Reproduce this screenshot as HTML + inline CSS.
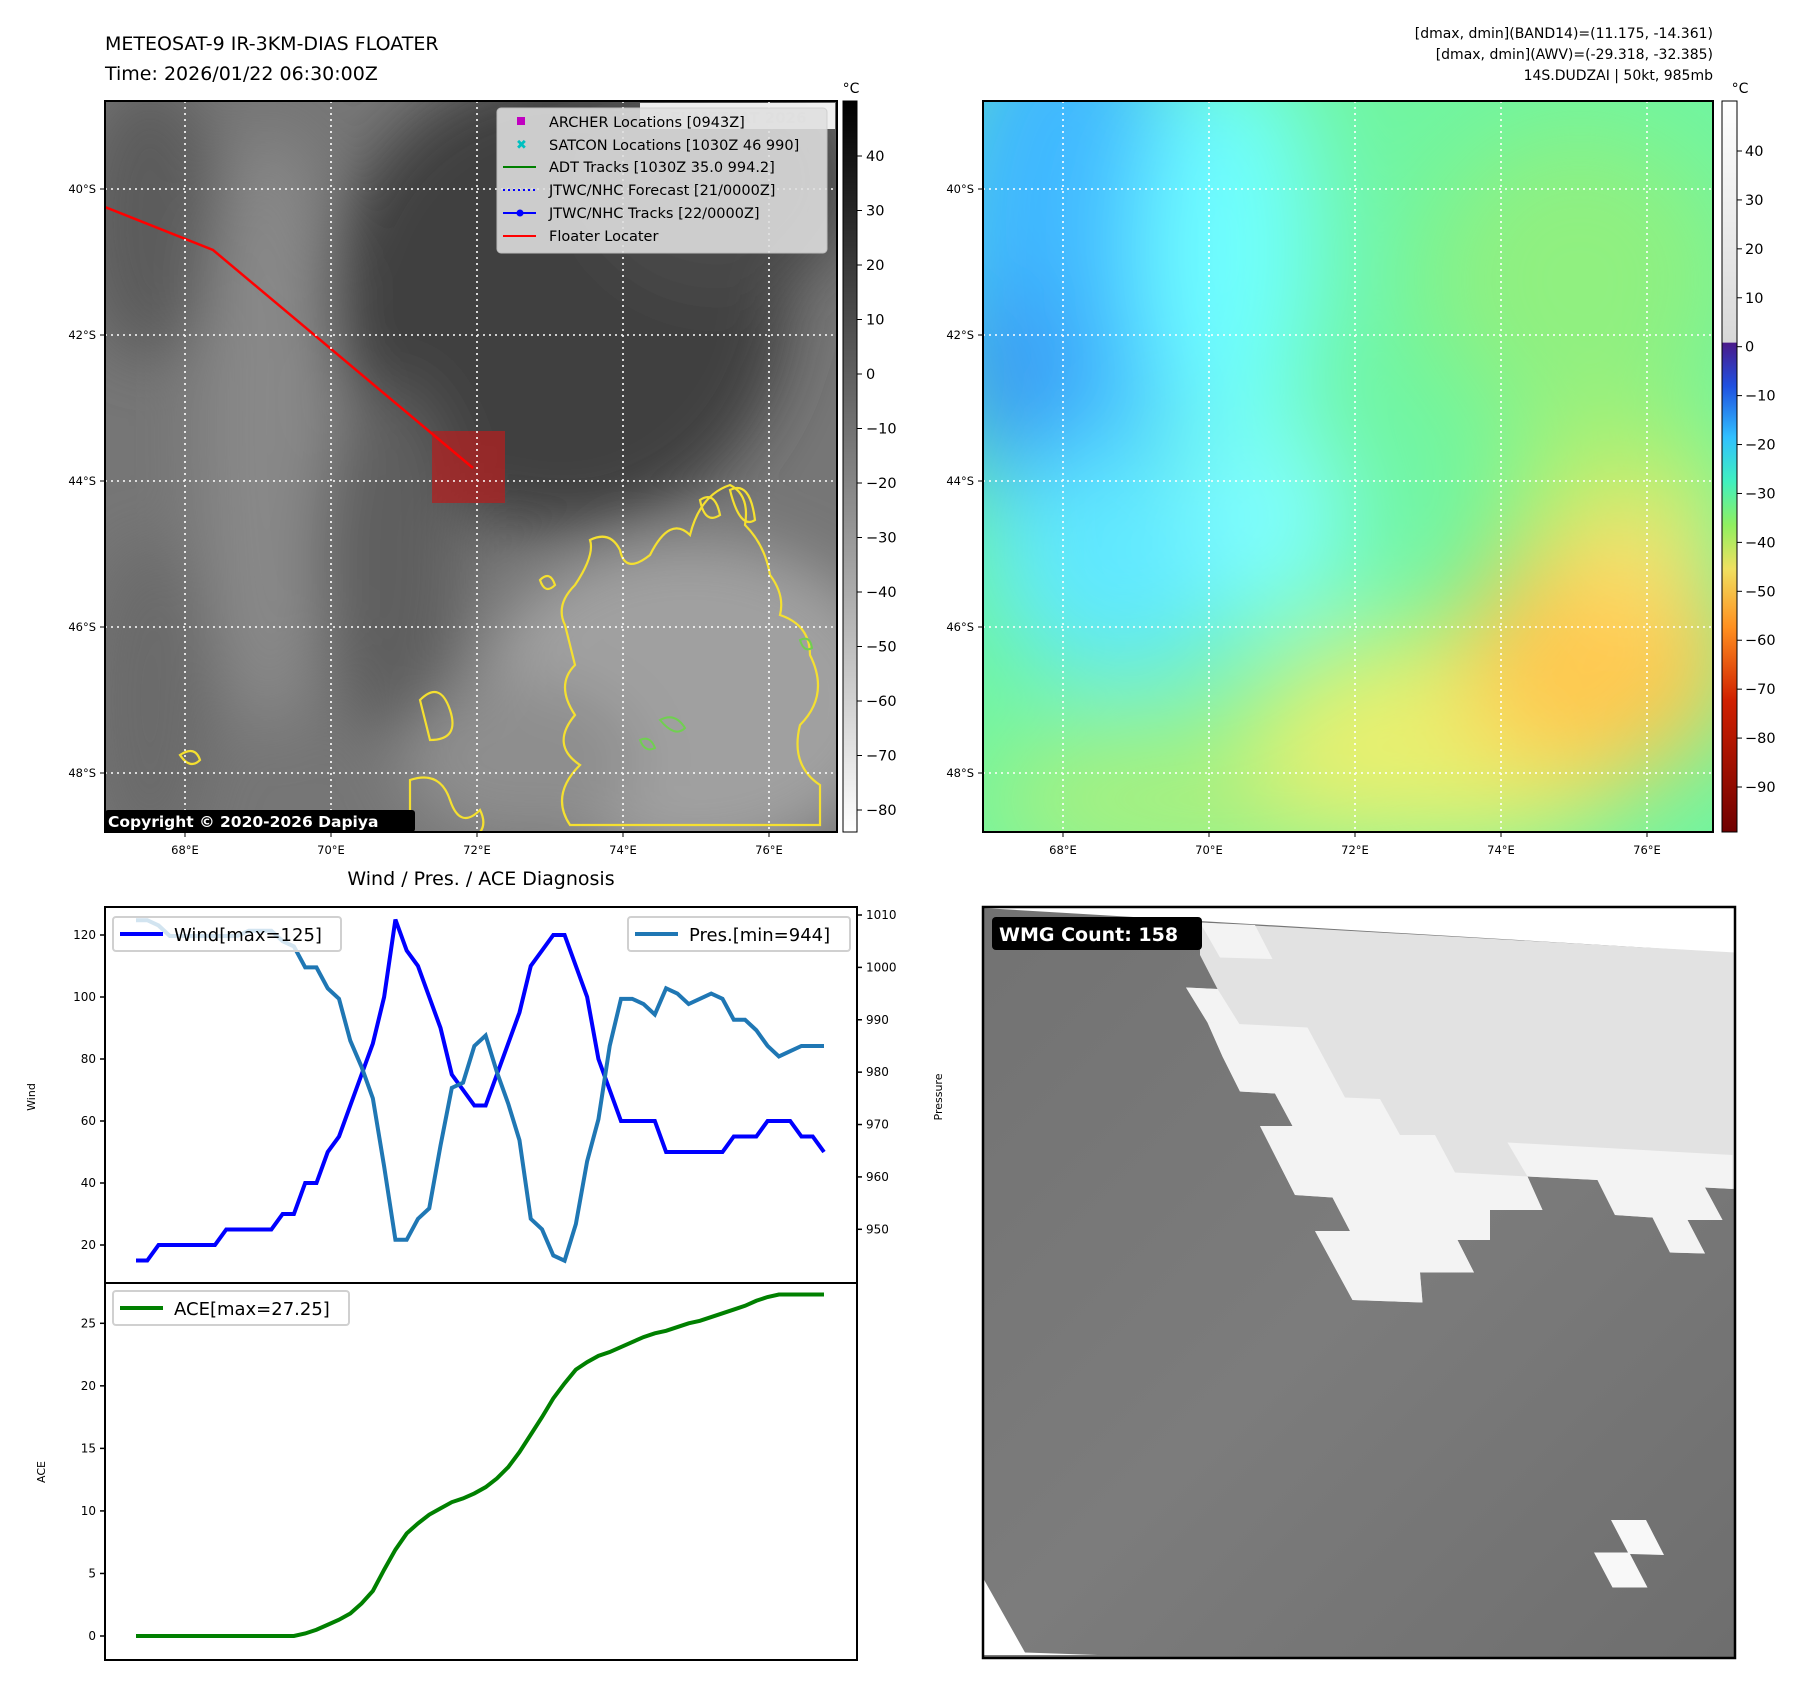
<!DOCTYPE html>
<html><head><meta charset="utf-8"><style>
body{margin:0;background:#fff;font-family:"Liberation Sans","DejaVu Sans",sans-serif;}
svg text{font-family:"DejaVu Sans","Liberation Sans",sans-serif;}
</style></head><body>
<svg id="root" width="1797" height="1690" viewBox="0 0 1797 1690" xmlns="http://www.w3.org/2000/svg">
<defs>
<filter id="b1" x="-50%" y="-50%" width="200%" height="200%"><feGaussianBlur stdDeviation="30"/></filter>
<filter id="b2" x="-50%" y="-50%" width="200%" height="200%"><feGaussianBlur stdDeviation="50"/></filter>
<clipPath id="c1"><rect x="105" y="101" width="732" height="731"/></clipPath>
<clipPath id="c2"><rect x="983" y="101" width="730" height="731"/></clipPath>
<clipPath id="c3"><rect x="983" y="907" width="752" height="751"/></clipPath>
<linearGradient id="gcb" x1="0" y1="0" x2="0" y2="1"><stop offset="0" stop-color="#000"/><stop offset="1" stop-color="#fff"/></linearGradient>
<linearGradient id="wmgbg" x1="0" y1="0" x2="1" y2="1"><stop offset="0" stop-color="#727272"/><stop offset="0.5" stop-color="#7c7c7c"/><stop offset="1" stop-color="#6e6e6e"/></linearGradient>
<linearGradient id="ccb" x1="0" y1="0" x2="0" y2="1">
<stop offset="0" stop-color="#ffffff"/><stop offset="0.33" stop-color="#d8d8d8"/>
<stop offset="0.331" stop-color="#4b1a8a"/><stop offset="0.39" stop-color="#2050e0"/><stop offset="0.46" stop-color="#30c0ff"/>
<stop offset="0.52" stop-color="#40f0c0"/><stop offset="0.58" stop-color="#90f060"/><stop offset="0.64" stop-color="#f0e060"/>
<stop offset="0.72" stop-color="#ff9020"/><stop offset="0.82" stop-color="#d02000"/><stop offset="1" stop-color="#700000"/></linearGradient>
</defs>

<text x="105" y="50" font-size="19">METEOSAT-9 IR-3KM-DIAS FLOATER</text>
<text x="105" y="80" font-size="19">Time: 2026/01/22 06:30:00Z</text>
<g font-size="14" text-anchor="end">
<text x="1713" y="38">[dmax, dmin](BAND14)=(11.175, -14.361)</text>
<text x="1713" y="59">[dmax, dmin](AWV)=(-29.318, -32.385)</text>
<text x="1713" y="80">14S.DUDZAI | 50kt, 985mb</text>
</g>

<g clip-path="url(#c1)">
<rect x="105" y="101" width="732" height="731" fill="#767676"/>
<g filter="url(#b1)">
<ellipse cx="150" cy="220" rx="70" ry="140" fill="#5c5c5c"/>
<ellipse cx="270" cy="430" rx="70" ry="300" fill="#888"/>
<ellipse cx="560" cy="300" rx="230" ry="230" fill="#404040"/>
<ellipse cx="720" cy="180" rx="140" ry="120" fill="#4a4a4a"/>
<ellipse cx="390" cy="560" rx="70" ry="180" fill="#5e5e5e"/>
<ellipse cx="690" cy="700" rx="210" ry="160" fill="#a0a0a0"/>
<ellipse cx="150" cy="700" rx="60" ry="160" fill="#6a6a6a"/>
<ellipse cx="520" cy="760" rx="120" ry="80" fill="#8e8e8e"/>
</g>
<g fill="none" stroke="#f5e030" stroke-width="2.2">
<path d="M565,625 q-10,-20 10,-40 q20,-30 15,-45 q20,-10 30,10 q5,25 30,5 q20,-40 40,-20 q10,-40 40,-50 q20,10 15,40 q20,20 25,50 q15,20 10,40 q30,10 30,40 q20,40 -10,70 q-10,40 20,60 l0,40 l-250,0 q-20,-30 10,-60 q-30,-20 -5,-50 q-20,-30 0,-50 z"/>
<path d="M420,700 q20,-20 30,10 q10,30 -20,30 z"/>
<path d="M410,780 q30,-10 40,20 q10,30 30,10 q10,20 -10,30 l-60,0 z"/>
<path d="M180,755 q15,-10 20,5 q-10,10 -20,-5 z"/>
<path d="M700,500 q15,-10 20,15 q-15,10 -20,-15 z"/>
<path d="M730,490 q20,-10 25,30 q-15,10 -25,-30 z"/>
<path d="M540,580 q10,-10 15,5 q-10,10 -15,-5 z"/>
</g>
<g fill="none" stroke="#70d050" stroke-width="2">
<path d="M660,720 q15,-8 25,8 q-10,10 -25,-8 z"/><path d="M640,740 q10,-5 15,8 q-10,5 -15,-8 z"/><path d="M800,640 q10,-5 12,8 q-8,5 -12,-8 z"/>
</g>
<rect x="432" y="431" width="73" height="72" fill="#b02020" opacity="0.75"/>
<polyline points="105,207 213,250 473,468" fill="none" stroke="#f00" stroke-width="2.5"/>
</g>
<g stroke="#fff" stroke-width="1.6" stroke-dasharray="2,4">
<line x1="185" y1="101" x2="185" y2="832"/><line x1="331" y1="101" x2="331" y2="832"/><line x1="477" y1="101" x2="477" y2="832"/><line x1="623" y1="101" x2="623" y2="832"/><line x1="769" y1="101" x2="769" y2="832"/>
<line x1="105" y1="189" x2="837" y2="189"/><line x1="105" y1="335" x2="837" y2="335"/><line x1="105" y1="481" x2="837" y2="481"/><line x1="105" y1="627" x2="837" y2="627"/><line x1="105" y1="773" x2="837" y2="773"/>
</g>
<rect x="640" y="103" width="195" height="26" fill="#fff" opacity="0.9"/>
<text x="650" y="123" font-size="15" font-weight="bold" fill="#ddd">© EUMETSAT 2026</text>
<g>
<rect x="497" y="108" width="330" height="145" rx="4" fill="#e0e0e0" opacity="0.88" stroke="#ccc"/>
<rect x="517" y="117" width="8" height="8" fill="#c000c0"/>
<text x="516" y="149" font-size="13" fill="#00c0c0" font-weight="bold">✖</text>
<line x1="503" y1="167" x2="536" y2="167" stroke="green" stroke-width="2"/>
<line x1="503" y1="190" x2="536" y2="190" stroke="blue" stroke-width="2" stroke-dasharray="2,3"/>
<line x1="503" y1="213" x2="536" y2="213" stroke="blue" stroke-width="2"/><circle cx="520" cy="213" r="3.5" fill="blue"/>
<line x1="503" y1="236" x2="536" y2="236" stroke="red" stroke-width="2"/>
<g font-size="14.5"><text x="549" y="127">ARCHER Locations [0943Z]</text><text x="549" y="150">SATCON Locations [1030Z 46 990]</text><text x="549" y="172">ADT Tracks [1030Z 35.0 994.2]</text><text x="549" y="195">JTWC/NHC Forecast [21/0000Z]</text><text x="549" y="218">JTWC/NHC Tracks [22/0000Z]</text><text x="549" y="241">Floater Locater</text></g>
</g>
<rect x="105" y="810" width="310" height="22" fill="#000" rx="3"/>
<text x="108" y="827" font-size="15.5" font-weight="bold" fill="#fff">Copyright © 2020-2026 Dapiya</text>
<rect x="105" y="101" width="732" height="731" fill="none" stroke="#000" stroke-width="2"/>
<rect x="843" y="101" width="14" height="731" fill="url(#gcb)" stroke="#000"/>
<text x="851" y="93" font-size="14" text-anchor="middle">°C</text>
<g id="cb1" font-size="14.5"></g>
<g id="lab1" font-size="11.5"></g>

<g clip-path="url(#c2)">
<rect x="983" y="101" width="730" height="731" fill="#70f5a0"/>
<g filter="url(#b2)">
<ellipse cx="1060" cy="260" rx="140" ry="280" fill="#40b8ff"/>
<ellipse cx="1010" cy="380" rx="50" ry="90" fill="#3890f0"/>
<ellipse cx="1230" cy="250" rx="90" ry="200" fill="#70ffff"/>
<ellipse cx="1120" cy="560" rx="130" ry="120" fill="#60e8ff"/>
<ellipse cx="1270" cy="520" rx="80" ry="100" fill="#80ffff"/>
<ellipse cx="1580" cy="280" rx="150" ry="150" fill="#90f080"/>
<ellipse cx="1620" cy="500" rx="120" ry="90" fill="#b0f070"/>
<ellipse cx="1200" cy="800" rx="220" ry="80" fill="#a8f080"/>
<ellipse cx="1450" cy="740" rx="200" ry="110" fill="#e8f070"/>
<ellipse cx="1600" cy="660" rx="140" ry="120" fill="#ffc850"/>
<ellipse cx="1640" cy="560" rx="60" ry="60" fill="#ffe070"/>
</g>
</g>
<g stroke="#fff" stroke-width="1.6" stroke-dasharray="2,4">
<line x1="1063" y1="101" x2="1063" y2="832"/><line x1="1209" y1="101" x2="1209" y2="832"/><line x1="1355" y1="101" x2="1355" y2="832"/><line x1="1501" y1="101" x2="1501" y2="832"/><line x1="1647" y1="101" x2="1647" y2="832"/>
<line x1="983" y1="189" x2="1713" y2="189"/><line x1="983" y1="335" x2="1713" y2="335"/><line x1="983" y1="481" x2="1713" y2="481"/><line x1="983" y1="627" x2="1713" y2="627"/><line x1="983" y1="773" x2="1713" y2="773"/>
</g>
<rect x="983" y="101" width="730" height="731" fill="none" stroke="#000" stroke-width="2"/>
<rect x="1722" y="101" width="15" height="731" fill="url(#ccb)" stroke="#000"/>
<text x="1740" y="93" font-size="14" text-anchor="middle">°C</text>
<g id="cb2" font-size="14.5"></g>
<g id="lab2" font-size="11.5"></g>

<text x="481" y="885" font-size="19" text-anchor="middle">Wind / Pres. / ACE Diagnosis</text>
<g id="chart"></g>

<g clip-path="url(#c3)">
<rect x="983" y="907" width="752" height="751" fill="url(#wmgbg)"/>
<polygon points="983,907 1735,907 1735,953 983,908" fill="#fff"/>
<polygon transform="translate(980,900) scale(0.5)" fill="#e2e2e2" points="440,45 1510,105 1510,578 1450,575 1485,640 1415,640 1450,707 1380,705 1345,635 1270,630 1235,560 1095,553 1125,620 1020,620 1020,680 955,680 988,745 880,745 885,805 745,800 670,662 740,662 705,595 630,590 560,452 625,452 590,387 520,383 485,313 455,245 412,175 475,178 440,110"/>
<g transform="translate(980,900) scale(0.5)" fill="#f3f3f3">
<polygon points="412,175 475,178 520,250 455,245"/>
<polygon points="455,245 655,255 730,395 800,398 840,470 910,470 950,545 1095,553 1125,620 1020,620 1020,680 955,680 988,745 880,745 885,805 745,800 670,662 740,662 705,595 630,590 560,452 625,452 590,387 520,383 485,313"/>
<polygon points="1055,485 1505,510 1505,578 1450,575 1485,640 1415,640 1450,707 1380,705 1345,635 1270,630 1235,560 1095,553"/>
<polygon points="440,45 550,50 585,118 480,115"/>
</g>
<polygon transform="translate(980,900) scale(0.5)" fill="#f8f8f8" points="1262,1240 1332,1240 1368,1310 1300,1308 1335,1375 1265,1375 1228,1305 1296,1305"/>
<polygon transform="translate(980,900) scale(0.5)" fill="#fff" points="0,1345 90,1505 235,1510 0,1510"/>
</g>
<rect x="983" y="907" width="752" height="751" fill="none" stroke="#000" stroke-width="2.5"/>
<rect x="992" y="917" width="210" height="33" rx="4" fill="#000"/>
<text x="999" y="941" font-size="19" font-weight="bold" fill="#fff">WMG Count: 158</text>
</svg>
<script>
const NS='http://www.w3.org/2000/svg';
const wind=[15,15,20,20,20,20,20,20,25,25,25,25,25,30,30,40,40,50,55,65,75,85,100,125,115,110,100,90,75,70,65,65,75,85,95,110,115,120,120,110,100,80,70,60,60,60,60,50,50,50,50,50,50,55,55,55,60,60,60,55,55,50];
const pres=[1009,1009,1008,1006,1006,1006,1006,1006,1006,1006,1007,1007,1007,1005,1004,1000,1000,996,994,986,981,975,962,948,948,952,954,966,977,978,985,987,980,974,967,952,950,945,944,951,963,971,985,994,994,993,991,996,995,993,994,995,994,990,990,988,985,983,984,985,985,985];
const ace=[0,0,0,0,0,0,0,0,0,0,0,0,0,0,0,0.2,0.5,0.9,1.3,1.8,2.6,3.6,5.3,6.9,8.2,9.0,9.7,10.2,10.7,11.0,11.4,11.9,12.6,13.5,14.7,16.1,17.5,19.0,20.2,21.3,21.9,22.4,22.7,23.1,23.5,23.9,24.2,24.4,24.7,25.0,25.2,25.5,25.8,26.1,26.4,26.8,27.1,27.3,27.3,27.3,27.3,27.3];
const windTicks=[20,40,60,80,100,120];
const presTicks=[950,960,970,980,990,1000,1010];
const aceTicks=[0,5,10,15,20,25];
const irTicks=[40,30,20,10,0,-10,-20,-30,-40,-50,-60,-70,-80];
const awvTicks=[40,30,20,10,0,-10,-20,-30,-40,-50,-60,-70,-80,-90];
const lonLabels=['68°E','70°E','72°E','74°E','76°E'];
const latLabels=['40°S','42°S','44°S','46°S','48°S'];

function mk(tag,attrs,parent,txt){const e=document.createElementNS(NS,tag);for(const k in attrs)e.setAttribute(k,attrs[k]);if(txt!==undefined)e.textContent=txt;parent.appendChild(e);return e;}
const xS=i=>136+i*(824-136)/(wind.length-1);
const yW=v=>935+(120-v)*(1245-935)/100;
const yP=v=>915+(1010-v)*(1229.3-915)/60;
const yA=v=>1636-v*(1636-1323.3)/25;
const ch=document.getElementById('chart');

const cb1=document.getElementById('cb1');
irTicks.forEach(t=>{const y=156+(40-t)*(810-156)/120;
 mk('line',{x1:857,y1:y,x2:862,y2:y,stroke:'#000'},cb1);
 const tx=mk('text',{x:866,y:y+5},cb1,t<0?'−'+(-t):String(t));
 
 });
const cb2=document.getElementById('cb2');
awvTicks.forEach(t=>{const y=151+(40-t)*(787-151)/130;
 mk('line',{x1:1737,y1:y,x2:1742,y2:y,stroke:'#000'},cb2);
 const tx=mk('text',{x:1745,y:y+5},cb2,t<0?'−'+(-t):String(t));
 
 });
[[document.getElementById('lab1'),185,105],[document.getElementById('lab2'),1063,983]].forEach(([g,x0,left])=>{
 lonLabels.forEach((l,i)=>{const x=x0+i*146;mk('line',{x1:x,y1:832,x2:x,y2:837,stroke:'#000'},g);
  const t=mk('text',{x:x,y:854,'text-anchor':'middle'},g,l);
  
  });
 latLabels.forEach((l,i)=>{const y=189+i*146;mk('line',{x1:left-5,y1:y,x2:left,y2:y,stroke:'#000'},g);
  const t=mk('text',{x:left-9,y:y+4,'text-anchor':'end'},g,l);
  
  });
});

mk('rect',{x:105,y:907,width:752,height:376,fill:'none',stroke:'#000','stroke-width':2},ch);
mk('rect',{x:105,y:1283,width:752,height:377,fill:'none',stroke:'#000','stroke-width':2},ch);
windTicks.forEach(t=>{const y=yW(t);mk('line',{x1:100,y1:y,x2:105,y2:y,stroke:'#000','stroke-width':1.5},ch);
 const tx=mk('text',{x:96,y:y+4,'font-size':12,'text-anchor':'end'},ch,String(t));
 
 });
presTicks.forEach(t=>{const y=yP(t);mk('line',{x1:857,y1:y,x2:862,y2:y,stroke:'#000','stroke-width':1.5},ch);
 const tx=mk('text',{x:866,y:y+4,'font-size':12},ch,String(t));
 
 });
aceTicks.forEach(t=>{const y=yA(t);mk('line',{x1:100,y1:y,x2:105,y2:y,stroke:'#000','stroke-width':1.5},ch);
 const tx=mk('text',{x:96,y:y+4,'font-size':12,'text-anchor':'end'},ch,String(t));
 
 });
mk('text',{x:35,y:1097,'font-size':11,'text-anchor':'middle',transform:'rotate(-90 35 1097)'},ch,'Wind');
mk('text',{x:942,y:1097,'font-size':11,'text-anchor':'middle',transform:'rotate(-90 942 1097)'},ch,'Pressure');
mk('text',{x:45,y:1472,'font-size':11,'text-anchor':'middle',transform:'rotate(-90 45 1472)'},ch,'ACE');

const pl=mk('polyline',{points:wind.map((v,i)=>xS(i)+','+yW(v)).join(' '),fill:'none',stroke:'#0000ff','stroke-width':4},ch);


const pp=mk('polyline',{points:pres.map((v,i)=>xS(i)+','+yP(v)).join(' '),fill:'none',stroke:'#1f77b4','stroke-width':4},ch);


const pa=mk('polyline',{points:ace.map((v,i)=>xS(i)+','+yA(v)).join(' '),fill:'none',stroke:'#008000','stroke-width':4},ch);



function legend(x,y,w,color,label,name){const g=mk('g',{},ch);
 
 
 mk('rect',{x:x,y:y,width:w,height:34,rx:3,fill:'#fff','fill-opacity':0.8,stroke:'#d0d0d0','stroke-width':2},g);
 mk('line',{x1:x+7,y1:y+17,x2:x+50,y2:y+17,stroke:color,'stroke-width':4},g);
 mk('text',{x:x+61,y:y+24,'font-size':18},g,label);}
legend(113,917,228,'#0000ff','Wind[max=125]','wind-legend');
legend(628,917,222,'#1f77b4','Pres.[min=944]','pres-legend');
legend(113,1291,236,'#008000','ACE[max=27.25]','ace-legend');
</script>
</body></html>
